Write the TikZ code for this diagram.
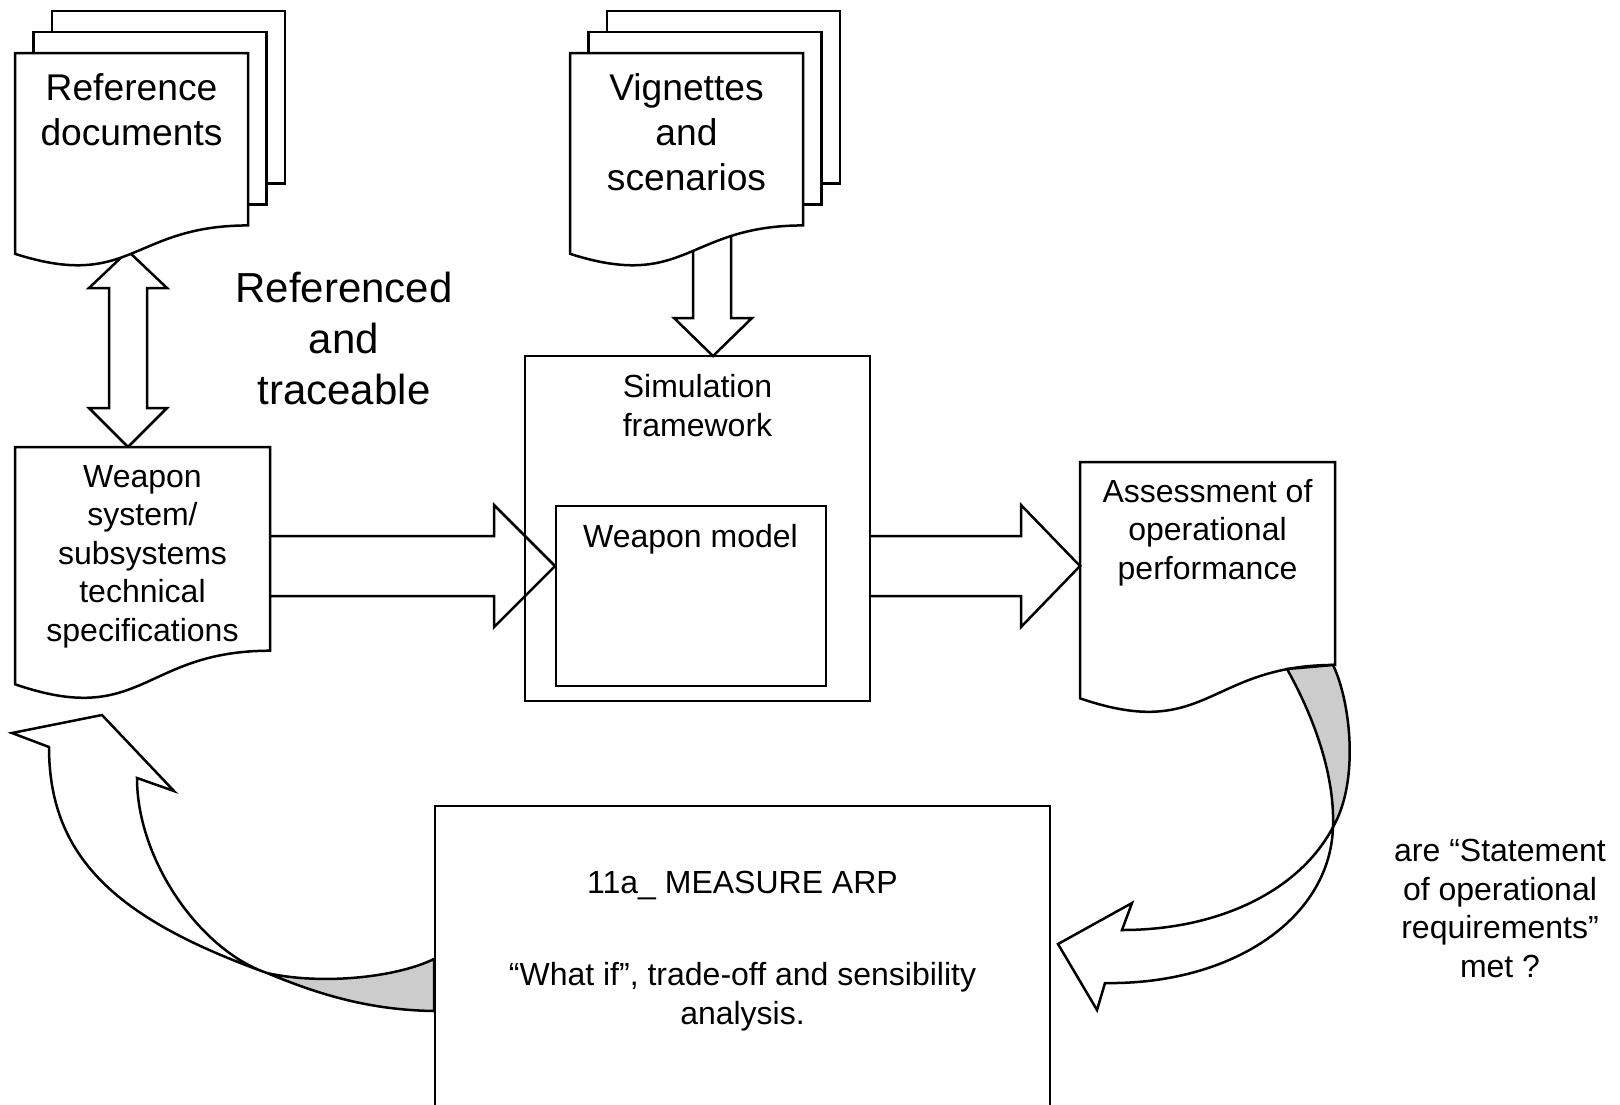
\documentclass[tikz,border=0pt]{standalone}
\usepackage{fontspec}
\setmainfont{Liberation Sans}
\newcommand\fsmall{\fontsize{16pt}{19.2pt}\selectfont}
\newcommand\fdoc{\fontsize{18.6pt}{22.5pt}\selectfont}
\newcommand\fbig{\fontsize{21pt}{25.4pt}\selectfont}
\definecolor{ribbon}{HTML}{CCCCCC}
\tikzset{
  outline/.style={draw=black, line width=1.25pt, line join=miter},
  paper/.style={outline, fill=white},
  blockarrow/.style={outline},
  txt/.style={inner sep=0pt, align=center, anchor=base, text=black},
}
% document shape: [style]{x0}{x1}{top}{H}
\newcommand\drawdoc[5][]{%
  \pgfmathsetmacro\dxm{(#2+#3)/2}%
  \pgfmathsetmacro\dyr{#4+0.802*#5}%
  \pgfmathsetmacro\dyc{#4+1.1075*#5}%
  \pgfmathsetmacro\dyl{#4+0.934*#5}%
  \draw[paper,#1] (#2,#4) -- (#3,#4) -- (#3,\dyr) .. controls (\dxm,\dyr) and (\dxm,\dyc) .. (#2,\dyl) -- cycle;}
% stacked documents: {x0}{x1}{top}{H}
\newcommand\drawstack[4]{%
  \pgfmathsetmacro\sbr{#3+0.802*#4}%
  \draw[paper] ({#1+37},{#3-42}) rectangle ({#2+37},{\sbr-42});
  \draw[paper] ({#1+18.5},{#3-21}) rectangle ({#2+18.5},{\sbr-21});
  \drawdoc{#1}{#2}{#3}{#4}}
\begin{document}
\begin{tikzpicture}[x=0.5pt,y=-0.5pt]
\useasboundingbox (0,0) rectangle (1620,1104);

% block arrows (drawn before the papers)
\draw[blockarrow] (693,230) -- (693,318) -- (674,318) -- (713,356) -- (752,318) -- (731,318) -- (731,230);
\draw[blockarrow] (128,251) -- (167,288) -- (147,288) -- (147,408) -- (167,408) -- (128,447) -- (89,408) -- (109,408) -- (109,288) -- (89,288) -- cycle;

% stacked documents
\drawstack{15}{248}{53}{215}
\drawstack{570}{803}{53}{215}

% single documents
\drawdoc{15}{270}{447}{254}
\drawdoc{1080}{1335}{462}{253}

% simulation framework and weapon model
\draw[outline] (525,356) rectangle (870,701);
\draw[outline] (556,506) rectangle (826,686);

% horizontal block arrows
\draw[blockarrow] (271,536) -- (494,536) -- (494,505) -- (555,566) -- (494,627) -- (494,596) -- (271,596);
\draw[blockarrow] (870,536) -- (1021,536) -- (1021,505) -- (1080,566) -- (1021,627) -- (1021,596) -- (870,596);

% 11a box (open at the bottom)
\draw[outline] (435,1112) -- (435,806) -- (1050,806) -- (1050,1112);

% curved arrow from assessment to 11a (right)
\draw[outline, fill=ribbon] (1333,827) .. controls (1360,780) and (1350,700) .. (1333,665)
  -- (1287,669) .. controls (1310,710) and (1335,770) .. (1333,827) -- cycle;
\draw[outline, fill=white] (1333,827) .. controls (1300,890) and (1220,930) .. (1122,930)
  -- (1132,903) -- (1058,944) -- (1097,1010) -- (1105,983)
  .. controls (1230,985) and (1330,920) .. (1333,827) -- cycle;

% curved arrow from 11a to weapon specifications (left)
\draw[outline, fill=ribbon] (267,973) .. controls (320,985) and (395,978) .. (434,959)
  -- (434,1011) .. controls (370,1010) and (320,995) .. (267,973) -- cycle;
\draw[outline, fill=white] (267,973) .. controls (120,920) and (49,860) .. (49,747)
  -- (12,733) -- (102,715) -- (174,791) -- (137,778)
  .. controls (137,860) and (200,950) .. (267,973) -- cycle;

% texts (anchor = baseline of the last line)
\node[txt, font=\fdoc] (reftext) at (131.5,145) {Reference\\documents};
\node[txt, font=\fdoc] (vigtext) at (686.5,190) {Vignettes\\and\\scenarios};
\node[txt, font=\fbig] (tracetext) at (344,404) {Referenced\\and\\traceable};
\node[txt, font=\fsmall] (weapontext) at (142.5,641) {Weapon\\system/\\subsystems\\technical\\specifications};
\node[txt, font=\fsmall] (simtext) at (697.5,436) {Simulation\\framework};
\node[txt, font=\fsmall] (modeltext) at (690.5,547) {Weapon model};
\node[txt, font=\fsmall] (assesstext) at (1207.5,579) {Assessment of\\operational\\performance};
\node[txt, font=\fsmall] (measuretext) at (742.5,893) {11a\_ MEASURE ARP};
\node[txt, font=\fsmall] (whatiftext) at (742.5,1024) {“What if”, trade-off and sensibility\\analysis.};
\node[txt, font=\fsmall] (questiontext) at (1500,977) {are “Statement\\of operational\\requirements”\\met ?};
\end{tikzpicture}
\end{document}
